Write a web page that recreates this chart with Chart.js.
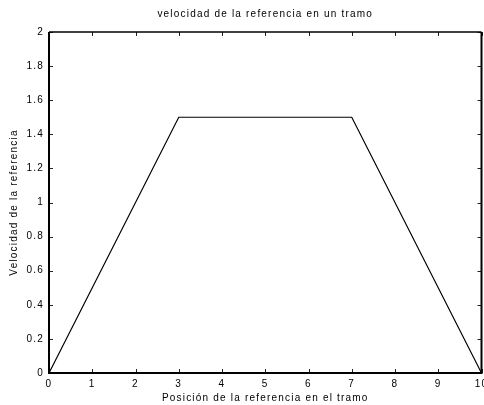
<!DOCTYPE html>
<html>
<head>
<meta charset="utf-8">
<script src="https://cdn.jsdelivr.net/npm/chart.js@4"></script>
<style>
html,body{margin:0;padding:0;background:#fff;}
canvas{display:block;}
</style>
</head>
<body>
<canvas id="c" width="484" height="405"></canvas>
<script>
// Data
const positions = [0, 3, 7, 10];
const velocities = [0, 1.5, 1.5, 0];
const xTicks = [0, 1, 2, 3, 4, 5, 6, 7, 8, 9, 10];
const yTicks = [0, 0.2, 0.4, 0.6, 0.8, 1, 1.2, 1.4, 1.6, 1.8, 2];
const titleText = 'velocidad de la referencia en un tramo';
const xLabel = 'Posición de la referencia en el tramo';
const yLabel = 'Velocidad de la referencia';

const points = positions.map((x, i) => ({x: x, y: velocities[i]}));
const FONT = {family: 'Arial, "Liberation Sans", Helvetica, sans-serif', size: 10};

const framePlugin = {
  id: 'frame',
  beforeDraw(chart) {
    chart.ctx.letterSpacing = '1.2px';
  },
  afterDraw(chart) {
    const ctx = chart.ctx;
    const a = chart.chartArea;
    const xs = chart.scales.x, ys = chart.scales.y;
    ctx.save();
    ctx.letterSpacing = '0px';
    // inward ticks
    ctx.lineWidth = 1;
    ctx.strokeStyle = '#222';
    ctx.beginPath();
    xs.ticks.forEach(t => {
      const px = Math.round(xs.getPixelForValue(t.value)) + 0.5;
      ctx.moveTo(px, a.bottom); ctx.lineTo(px, a.bottom - 4);
      ctx.moveTo(px, a.top); ctx.lineTo(px, a.top + 4);
    });
    ys.ticks.forEach(t => {
      const py = Math.round(ys.getPixelForValue(t.value)) + 0.5;
      ctx.moveTo(a.left, py); ctx.lineTo(a.left + 4, py);
      ctx.moveTo(a.right, py); ctx.lineTo(a.right - 4, py);
    });
    ctx.stroke();
    // box
    ctx.strokeStyle = '#000';
    ctx.lineWidth = 2;
    ctx.beginPath();
    ctx.moveTo(a.left, a.top);
    ctx.lineTo(a.left, a.bottom);
    ctx.lineTo(a.right, a.bottom);
    ctx.lineTo(a.right, a.top);
    ctx.stroke();
    ctx.lineWidth = 1.5;
    ctx.beginPath();
    ctx.moveTo(a.left, a.top);
    ctx.lineTo(a.right, a.top);
    ctx.stroke();
    ctx.restore();
  }
};

new Chart(document.getElementById('c'), {
  type: 'line',
  data: {
    datasets: [{
      data: points,
      borderColor: '#000',
      borderWidth: 1.2,
      pointRadius: 0,
      fill: false,
      tension: 0
    }]
  },
  options: {
    responsive: false,
    animation: false,
    layout: {padding: {left: 0, right: 2.5, top: 0, bottom: 0}},
    plugins: {
      legend: {display: false},
      tooltip: {enabled: false},
      title: {
        display: true,
        fullSize: false,
        text: titleText,
        color: '#000',
        font: {family: FONT.family, size: 10, weight: 'normal'},
        padding: {top: 8, bottom: 12}
      }
    },
    scales: {
      x: {
        type: 'linear',
        min: 0, max: 10,
        grid: {display: false, drawTicks: false},
        border: {display: false},
        afterBuildTicks(s) { s.ticks = xTicks.map(v => ({value: v})); },
        ticks: {
          color: '#000', font: FONT, padding: 5, autoSkip: false, maxRotation: 0,
          callback: v => String(v)
        },
        title: {display: true, text: xLabel, color: '#000', font: FONT, padding: {top: 0, bottom: 1}},
        afterFit(s) { s.height = 32; s.paddingLeft = 0; s.paddingRight = 0; }
      },
      y: {
        type: 'linear',
        min: 0, max: 2,
        grid: {display: false, drawTicks: false},
        border: {display: false},
        afterBuildTicks(s) { s.ticks = yTicks.map(v => ({value: v})); },
        ticks: {
          color: '#000', font: FONT, padding: 5, autoSkip: false,
          callback: v => String(Math.round(v * 10) / 10)
        },
        title: {display: true, text: yLabel, color: '#000', font: FONT, padding: {top: 8, bottom: 0}},
        afterFit(s) { s.width = 49; s.paddingTop = 0; s.paddingBottom = 0; }
      }
    }
  },
  plugins: [framePlugin]
});
</script>
</body>
</html>
